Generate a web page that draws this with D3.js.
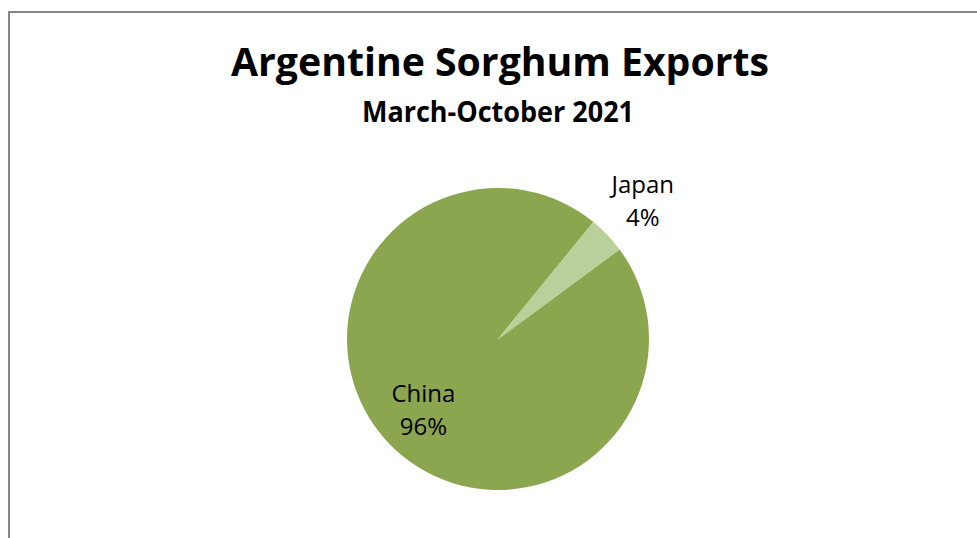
<!DOCTYPE html>
<html>
<head>
<meta charset="utf-8">
<script src="https://cdn.jsdelivr.net/npm/d3@7/dist/d3.min.js"></script>
<style>
  html, body { margin: 0; padding: 0; background: #ffffff; }
  svg { display: block; }
  text { font-family: "Open Sans", "Noto Sans", sans-serif; fill: #000; }
</style>
</head>
<body>
<svg id="chart" width="977" height="538"></svg>
<script>
// Export destinations and their shares (%)
const categories = ["China", "Japan"];
const shares = [96, 4];
const sliceColors = ["#8ba64f", "#bad09a"];
const titleText = "Argentine Sorghum Exports";
const subtitleText = "March-October 2021";

const svg = d3.select("#chart");
const W = 977, H = 538;

// chart frame (continues past the right and bottom edges)
svg.append("rect")
  .attr("x", 9).attr("y", 12)
  .attr("width", W + 20).attr("height", H + 20)
  .attr("fill", "#fff")
  .attr("stroke", "#878787")
  .attr("stroke-width", 2);

// titles
svg.append("text")
  .attr("x", 500).attr("y", 75.5)
  .attr("text-anchor", "middle")
  .attr("font-size", 40).attr("font-weight", 700)
  .attr("textLength", 538).attr("lengthAdjust", "spacingAndGlyphs")
  .text(titleText);

svg.append("text")
  .attr("x", 498).attr("y", 122)
  .attr("text-anchor", "middle")
  .attr("font-size", 28).attr("font-weight", 700)
  .attr("textLength", 272).attr("lengthAdjust", "spacingAndGlyphs")
  .text(subtitleText);

// pie
const cx = 498, cy = 339, radius = 151;
const rotation = 53.6 * Math.PI / 180;

const data = categories.map((c, i) => ({ name: c, value: shares[i], color: sliceColors[i] }));

const pie = d3.pie()
  .sort(null)
  .value(d => d.value)
  .startAngle(rotation)
  .endAngle(rotation + 2 * Math.PI);

const arcs = pie(data);
const arc = d3.arc().innerRadius(0).outerRadius(radius);

const g = svg.append("g").attr("transform", `translate(${cx},${cy})`);

g.selectAll("path.slice")
  .data(arcs)
  .join("path")
  .attr("class", "slice")
  .attr("d", arc)
  .attr("fill", d => d.data.color);

// data labels: name on the first line, percentage below
const labelRadius = { China: 103, Japan: 200 };
const pct = d3.format(".0%");
const total = d3.sum(shares);

arcs.forEach(a => {
  const r = labelRadius[a.data.name];
  const [lx, ly] = d3.arc().innerRadius(r).outerRadius(r).centroid(a);
  const t = g.append("text")
    .attr("text-anchor", "middle")
    .attr("font-size", 24);
  t.append("tspan")
    .attr("x", lx).attr("y", ly - 8.5)
    .text(a.data.name);
  t.append("tspan")
    .attr("x", lx).attr("y", ly + 24.5)
    .text(pct(a.data.value / total));
});
</script>
</body>
</html>
